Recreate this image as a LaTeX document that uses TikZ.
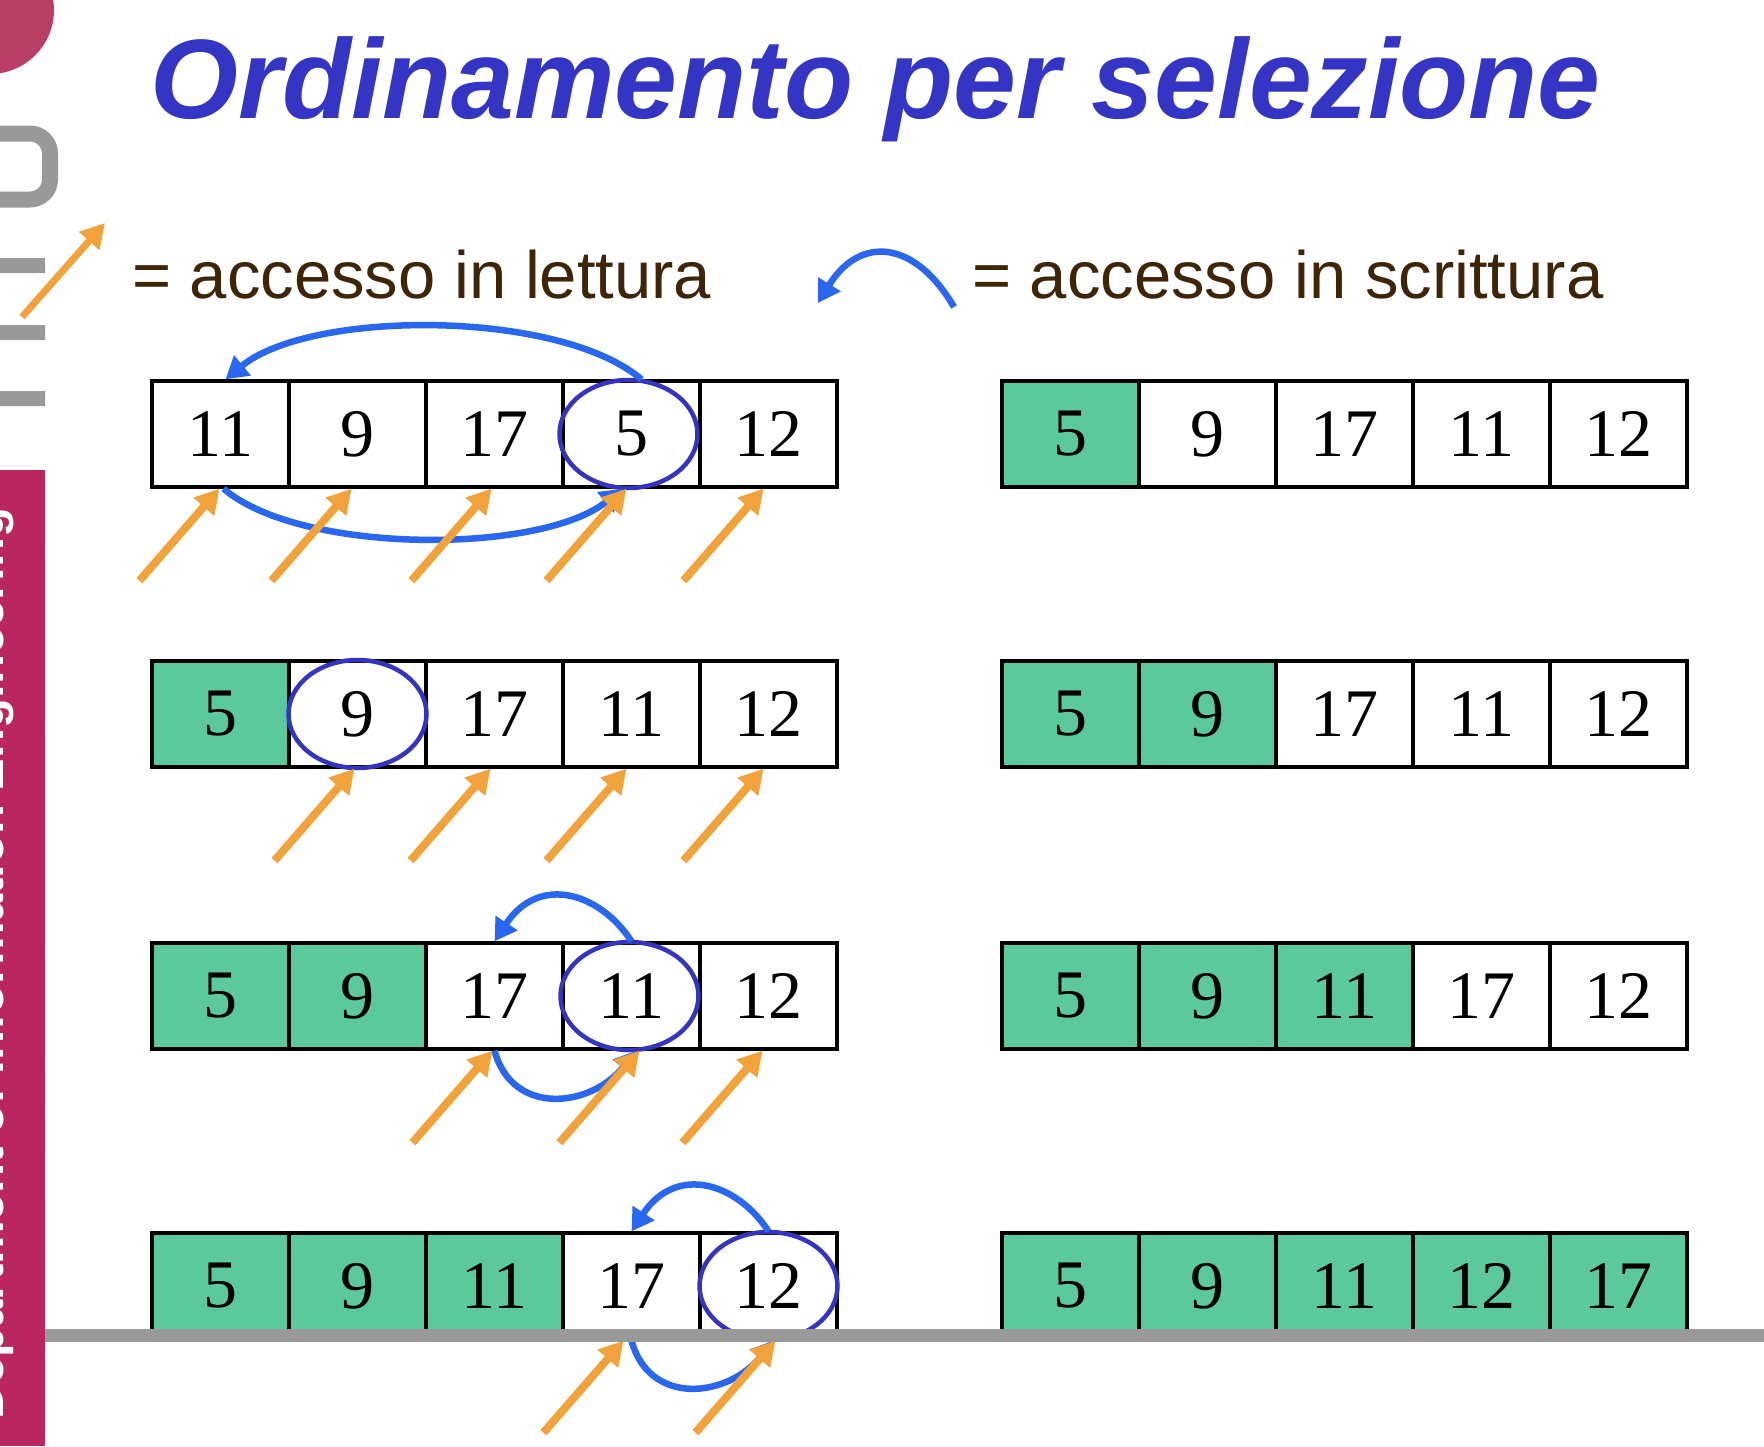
\documentclass[tikz,border=0pt]{standalone}
\usepackage{fontspec}
\usetikzlibrary{arrows.meta}
\newfontfamily\sansfont{Liberation Sans}
\newfontfamily\numfont{Liberation Serif}

\definecolor{titleblue}{RGB}{53,53,197}
\definecolor{legendbrown}{RGB}{63,37,8}
\definecolor{cellgreen}{RGB}{91,201,155}
\definecolor{ringblue}{RGB}{52,52,192}
\definecolor{writeblue}{RGB}{41,103,240}
\definecolor{readorange}{RGB}{242,162,58}
\definecolor{logogray}{RGB}{153,153,153}
\definecolor{logopink}{RGB}{184,62,102}
\definecolor{barmagenta}{RGB}{186,38,96}

\tikzset{
  cell/.style={draw=black, line width=3.3pt, minimum width=137pt, minimum height=106pt,
    inner sep=0pt, font=\numfont\fontsize{68}{68}\selectfont},
  done/.style={cell, fill=cellgreen},
  ring/.style={draw=ringblue, line width=4.5pt},
  readarrow/.style={draw=readorange, line width=8pt, -{Triangle[length=24pt,width=26pt]}},
  writearrow/.style={draw=writeblue, line width=6.5pt, -{Triangle[length=22pt,width=25pt]}},
  legend/.style={anchor=base west, inner sep=0pt, text=legendbrown,
    font=\sansfont\fontsize{67}{70}\selectfont},
}

% read access: orange arrow rising from lower left to the bottom of a cell
% #1 = cell node, #2 = horizontal offset of the tip
\newcommand\readarr[2]{%
  \coordinate (#1r) at ([shift={(#2-80,92)}]#1.south);
  \draw[readarrow] (#1r) -- ([xshift=#2pt]#1.south);}

\begin{document}
\begin{tikzpicture}[x=1pt,y=-1pt]
\useasboundingbox (0,0) rectangle (1764,1446);
\clip (0,0) rectangle (1764,1446);
\fill[white] (0,0) rectangle (1764,1446);

% logo strip on the left
\fill[logopink] (-10,10) circle [radius=64pt];
\draw[logogray, line width=16pt, rounded corners=20pt]
  (-10,133.5) -- (50,133.5) -- (50,199.5) -- (-10,199.5);
\fill[logogray] (0,258) rectangle (45,273) (0,325) rectangle (45,340) (0,391) rectangle (45,406);
\begin{scope}
  \clip (0,470) rectangle (45,1446);
  \fill[barmagenta] (0,470) rectangle (45,1446);
  \node[rotate=90, anchor=base west, inner sep=0pt, text=white,
    font=\sansfont\bfseries\fontsize{49}{50}\selectfont] (dept) at (4,1420)
    {Department of Information Engineering};
\end{scope}

% title
\node[anchor=base west, inner sep=0pt, text=titleblue,
  font=\sansfont\bfseries\itshape\fontsize{113}{120}\selectfont] (title) at (150,118)
  {Ordinamento per selezione};

% legend
\coordinate (legR0) at (22,317);
\coordinate (legR1) at (105,223);
\draw[readarrow, line width=7pt] (legR0) -- (legR1);
\node[legend] (legRtext) at (132,298) {= accesso in lettura};
\coordinate (legW0) at (954,307);
\coordinate (legW1) at (818,303);
\draw[writearrow] (legW0) .. controls +(-39,-67) and +(42,-68) .. (legW1);
\node[legend] (legWtext) at (972,298) {= accesso in scrittura};

% left column: arrays while searching the minimum
\foreach \v/\s [count=\i] in {11/cell,9/cell,17/cell,5/cell,12/cell}
  \node[\s] (A1\i) at ({152+137*(\i-0.5)},434) {\v};
\foreach \v/\s [count=\i] in {5/done,9/cell,17/cell,11/cell,12/cell}
  \node[\s] (A2\i) at ({152+137*(\i-0.5)},714) {\v};
\foreach \v/\s [count=\i] in {5/done,9/done,17/cell,11/cell,12/cell}
  \node[\s] (A3\i) at ({152+137*(\i-0.5)},996) {\v};
\foreach \v/\s [count=\i] in {5/done,9/done,11/done,17/cell,12/cell}
  \node[\s] (A4\i) at ({152+137*(\i-0.5)},1286) {\v};

% right column: arrays after each swap
\foreach \v/\s [count=\i] in {5/done,9/cell,17/cell,11/cell,12/cell}
  \node[\s] (B1\i) at ({1002+137*(\i-0.5)},434) {\v};
\foreach \v/\s [count=\i] in {5/done,9/done,17/cell,11/cell,12/cell}
  \node[\s] (B2\i) at ({1002+137*(\i-0.5)},714) {\v};
\foreach \v/\s [count=\i] in {5/done,9/done,11/done,17/cell,12/cell}
  \node[\s] (B3\i) at ({1002+137*(\i-0.5)},996) {\v};
\foreach \v/\s [count=\i] in {5/done,9/done,11/done,12/done,17/done}
  \node[\s] (B4\i) at ({1002+137*(\i-0.5)},1286) {\v};

% minimum found in each pass
\draw[ring] ([xshift=-3pt]A14.center) ellipse [x radius=69pt, y radius=54pt];
\draw[ring] (A22.center) ellipse [x radius=69pt, y radius=54pt];
\draw[ring] ([xshift=-2pt]A34.center) ellipse [x radius=69pt, y radius=54pt];
\draw[ring] (A45.center) ellipse [x radius=69pt, y radius=54pt];

% write accesses (swaps)
\draw[writearrow] ([xshift=10pt]A14.north) .. controls +(-82,-70) and +(85,-70) .. ([xshift=5pt]A11.north);
\draw[writearrow] ([xshift=3pt]A11.south) .. controls +(77,66) and +(-82,66) .. ([xshift=-9pt]A14.south);
\draw[writearrow] (A34.north) .. controls +(-31,-48) and +(45,-68) .. (A33.north);
\draw[writearrow] (A33.south) .. controls +(18,66) and +(-46,57) .. ([xshift=5pt]A34.south);
\draw[writearrow] (A45.north) .. controls +(-31,-48) and +(45,-68) .. (A44.north);
\draw[writearrow] (A44.south) .. controls +(18,66) and +(-46,57) .. ([xshift=5pt]A45.south);

% read accesses
\readarr{A11}{-1}\readarr{A12}{-6}\readarr{A13}{-3}\readarr{A14}{-5}\readarr{A15}{-5}
\readarr{A22}{-3}\readarr{A23}{-4}\readarr{A24}{-5}\readarr{A25}{-5}
\readarr{A33}{-2}\readarr{A34}{8}\readarr{A35}{-6}
\readarr{A44}{-8}\readarr{A45}{7}

% footer rule
\fill[logogray] (45,1329) rectangle (1764,1342);
\end{tikzpicture}
\end{document}
